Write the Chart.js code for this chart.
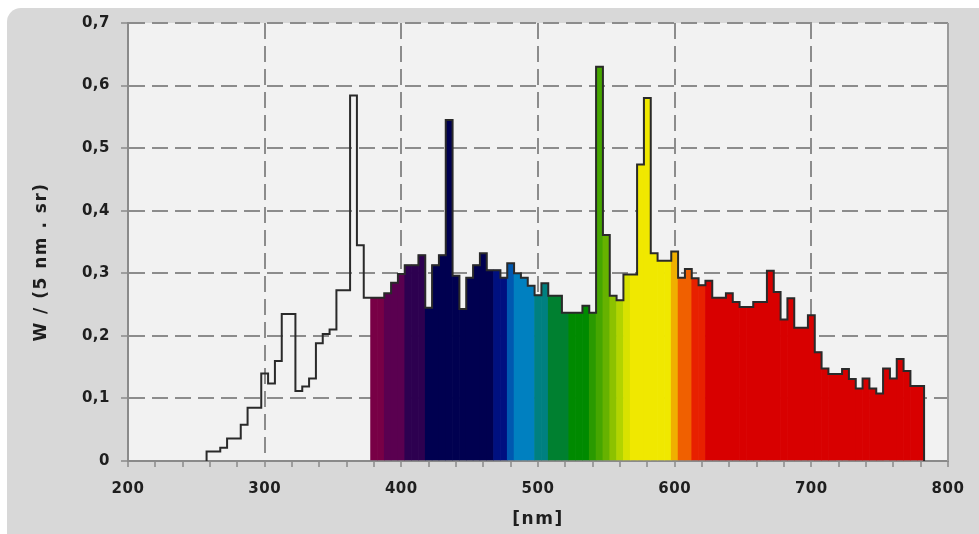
<!DOCTYPE html>
<html>
<head>
<meta charset="utf-8">
<script src="https://cdn.jsdelivr.net/npm/chart.js@4/dist/chart.umd.min.js"></script>
<style>
  html, body { margin: 0; padding: 0; background: #fff; }
  #wrap { position: relative; width: 979px; height: 534px; overflow: hidden; }
  #panel { position: absolute; left: 7px; top: 8px; right: 0; bottom: 0; background: #d8d8d8; border-top-left-radius: 14px; }
  #spectrum { position: absolute; left: 0; top: 0; }
</style>
</head>
<body>
<div id="wrap">
  <div id="panel"></div>
  <canvas id="spectrum" width="979" height="534"></canvas>
</div>
<script>
// 5 nm bins, bin centres 260 ... 780 nm
const binStart = 260;
const binStep = 5;
const radiance = [
  0.015, 0.015, 0.021, 0.036, 0.036, 0.058, 0.085, 0.085, 0.140, 0.124,   // 260-305
  0.160, 0.235, 0.235, 0.112, 0.119, 0.132, 0.188, 0.203, 0.210, 0.273,   // 310-355
  0.273, 0.584, 0.345, 0.261, 0.261, 0.261, 0.268, 0.285, 0.299, 0.313,   // 360-405
  0.313, 0.329, 0.245, 0.313, 0.329, 0.545, 0.296, 0.243, 0.293, 0.313,   // 410-455
  0.332, 0.305, 0.305, 0.293, 0.316, 0.300, 0.293, 0.280, 0.265, 0.284,   // 460-505
  0.264, 0.264, 0.237, 0.237, 0.237, 0.248, 0.237, 0.630, 0.361, 0.264,   // 510-555
  0.257, 0.298, 0.298, 0.474, 0.580, 0.332, 0.320, 0.320, 0.335, 0.293,   // 560-605
  0.307, 0.292, 0.281, 0.288, 0.261, 0.261, 0.268, 0.254, 0.246, 0.246,   // 610-655
  0.254, 0.254, 0.304, 0.270, 0.226, 0.260, 0.213, 0.213, 0.233, 0.174,   // 660-705
  0.148, 0.139, 0.139, 0.147, 0.131, 0.116, 0.132, 0.116, 0.108, 0.148,   // 710-755
  0.132, 0.163, 0.144, 0.120, 0.120                                       // 760-780
];

// spectral fill: each band starts at the given bin centre (UV bins stay unfilled)
const bandFrom  = [380, 390, 405, 420, 470, 480, 485, 500, 510, 525, 540, 545, 550, 555, 560, 565, 570, 600, 605, 615, 625];
const bandColor = ['#780046', '#5a0050', '#2d0050', '#000050', '#001080', '#0058b0', '#0080c0', '#008080', '#008030', '#008a00',
                   '#2a9a00', '#46a600', '#66b200', '#8cc200', '#b2d400', '#d8e200', '#f0e800', '#f0b000', '#f06000', '#e82000', '#d80000'];

const xTickLabels = ['200', '300', '400', '500', '600', '700', '800'];
const yTickLabels = ['0', '0,1', '0,2', '0,3', '0,4', '0,5', '0,6', '0,7'];

const centres = radiance.map((v, i) => binStart + i * binStep);

function colourFor(nm) {
  let c = 'rgba(0,0,0,0)';
  bandFrom.forEach((from, k) => { if (nm >= from) c = bandColor[k]; });
  return c;
}

const bars = centres.map((c, i) => ({ x: c, y: radiance[i] }));
const barColours = centres.map(colourFor);

// step outline along the bin edges, closed down to the axis at both ends
const half = binStep / 2;
const outline = [{ x: centres[0] - half, y: 0 }];
centres.forEach((c, i) => outline.push({ x: c - half, y: radiance[i] }));
const lastEdge = centres[centres.length - 1] + half;
outline.push({ x: lastEdge, y: radiance[radiance.length - 1] }, { x: lastEdge, y: 0 });

const gridColour = '#8c8c8c';
const axisColour = '#8a8a8a';
const none = 'rgba(0,0,0,0)';

Chart.defaults.font.family = '"DejaVu Sans", sans-serif';
Chart.defaults.font.size = 15;
Chart.defaults.font.weight = 'bold';
Chart.defaults.color = '#1e1e1e';

// plot background, right frame and axis titles
const framePlugin = {
  id: 'frame',
  beforeDraw(chart) {
    const { ctx, chartArea: a } = chart;
    ctx.letterSpacing = '0.5px';
    ctx.save();
    ctx.fillStyle = '#f2f2f2';
    ctx.fillRect(a.left, a.top, a.right - a.left, a.bottom - a.top);
    ctx.restore();
  },
  afterDraw(chart) {
    const { ctx, chartArea: a } = chart;
    ctx.save();
    ctx.strokeStyle = '#9a9a9a';
    ctx.lineWidth = 2;
    ctx.beginPath();
    ctx.moveTo(a.right, a.top);
    ctx.lineTo(a.right, a.bottom);
    ctx.stroke();

    ctx.fillStyle = '#1e1e1e';
    ctx.font = 'bold 17px "DejaVu Sans", sans-serif';
    ctx.letterSpacing = '1.5px';
    ctx.textAlign = 'center';
    ctx.textBaseline = 'middle';
    ctx.fillText('[nm]', (a.left + a.right) / 2, 520);
    ctx.translate(42, 262);
    ctx.rotate(-Math.PI / 2);
    ctx.fillText('W / (5 nm . sr)', 0, 0);
    ctx.restore();
  }
};

new Chart(document.getElementById('spectrum'), {
  type: 'line',
  data: {
    datasets: [
      {
        type: 'line',
        data: outline,
        borderColor: '#2a2a2a',
        borderWidth: 2,
        borderJoinStyle: 'miter',
        pointRadius: 0,
        stepped: true,
        fill: false,
        order: 0
      },
      {
        type: 'bar',
        data: bars,
        backgroundColor: barColours,
        borderWidth: 0,
        barPercentage: 1,
        categoryPercentage: 1,
        order: 1
      }
    ]
  },
  options: {
    responsive: false,
    animation: false,
    devicePixelRatio: 1,
    layout: { padding: { top: 23, right: 31, bottom: 0, left: 0 } },
    plugins: { legend: { display: false }, tooltip: { enabled: false } },
    scales: {
      x: {
        type: 'linear',
        min: 200,
        max: 800,
        offset: false,
        z: 1,
        afterFit: s => { s.height = 73; },
        ticks: {
          stepSize: 20,
          autoSkip: false,
          maxRotation: 0,
          padding: 13,
          callback: (v, i) => (i % 5 === 0 ? xTickLabels[i / 5] : '')
        },
        grid: {
          offset: false,
          color: c => (c.index % 5 === 0 && c.index > 0 && c.index < 30 ? gridColour : none),
          lineWidth: 2,
          tickLength: 6,
          tickColor: axisColour,
          tickWidth: 1.5
        },
        border: { color: axisColour, width: 2, dash: [16, 7] }
      },
      y: {
        min: 0,
        max: 0.7,
        z: 1,
        afterFit: s => { s.width = 128; },
        ticks: {
          stepSize: 0.1,
          padding: 11,
          callback: (v, i) => yTickLabels[i]
        },
        grid: {
          color: c => (c.index > 0 ? gridColour : none),
          lineWidth: 2,
          tickLength: 7,
          tickColor: axisColour,
          tickWidth: 1.5
        },
        border: { color: axisColour, width: 2, dash: [16, 7] }
      }
    }
  },
  plugins: [framePlugin]
});
</script>
</body>
</html>
